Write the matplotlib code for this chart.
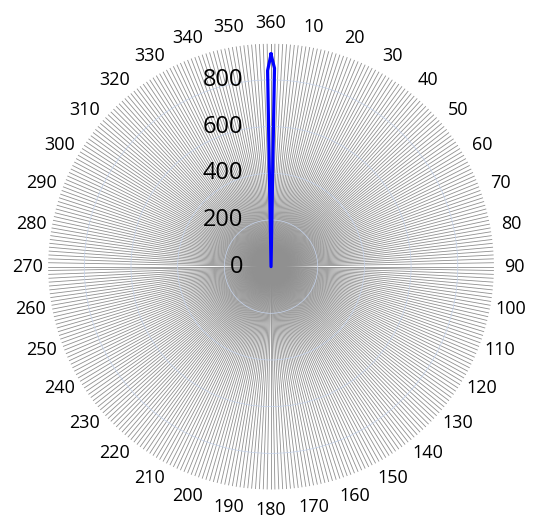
import matplotlib.pyplot as plt
import numpy as np

# spike data (degrees, value); every other degree is 0
angles_deg = np.arange(0, 360)
values = np.zeros(360)
spike_deg = [359, 0, 1]
spike_val = [840, 910, 850]
for d, v in zip(spike_deg, spike_val):
    values[d] = v

theta_labels = [str(d) for d in range(10, 361, 10)]
r_ticks = [0, 200, 400, 600, 800]
r_max = 955

fig = plt.figure(figsize=(5.33, 5.19), dpi=100)
ax = fig.add_axes([0.09, 0.0568, 0.837, 0.859], projection='polar')
ax.set_theta_zero_location('N')
ax.set_theta_direction(-1)

th = np.deg2rad(np.append(angles_deg, angles_deg[0]))
rr = np.append(values, values[0])
ax.plot(th, rr, color='#0000ff', lw=2.3, zorder=5)

ax.set_ylim(0, r_max)
ax.set_yticks(r_ticks[1:])
ax.set_yticklabels([])
ax.yaxis.grid(True, color='#c5d3ec', lw=0.5)

ax.set_xticks(np.deg2rad(np.arange(10, 361, 10)))
ax.set_xticklabels(theta_labels, fontsize=13, fontfamily='Open Sans')
ax.set_xticks(np.deg2rad(np.arange(0, 360, 1)), minor=True)
ax.xaxis.grid(True, which='both', color='#909090', lw=0.6)
ax.tick_params(axis='x', which='both', pad=8, length=0)
ax.spines['polar'].set_visible(False)

for r in r_ticks:
    ax.annotate(str(r), xy=(0, r), xytext=(-28, 0), textcoords='offset pixels',
                ha='right', va='center', fontsize=17, fontfamily='Open Sans', zorder=6)

fig.savefig('out.png', dpi=100)
